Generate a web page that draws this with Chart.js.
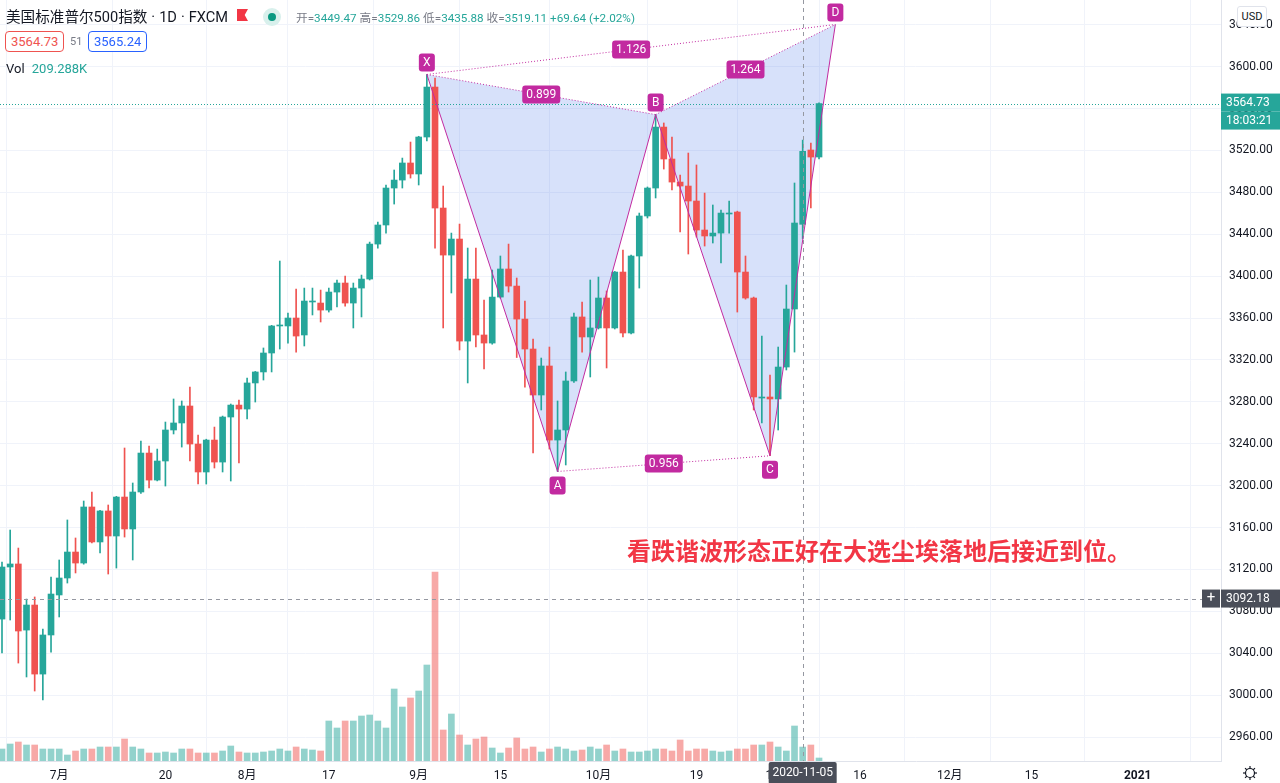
<!DOCTYPE html>
<html>
<head>
<meta charset="utf-8">
<script src="https://cdn.jsdelivr.net/npm/chart.js@4.4.0/dist/chart.umd.min.js"></script>
<style>
  html, body { margin: 0; padding: 0; background: #fff; }
  #wrap { position: relative; width: 1280px; height: 783px; overflow: hidden;
          font-family: Roboto, "Noto Sans CJK SC", sans-serif; color: #131722; }
  #chart { position: absolute; left: 0; top: 0; }
  .abs { position: absolute; white-space: nowrap; }
  .title { left: 6px; top: 5px; font-size: 14.6px; }
  .ohlc { left: 296px; top: 8px; font-size: 11.7px; color: #26a69a; }
  .ohlc b { font-weight: normal; color: #787b86; }
  .pbox { top: 31px; height: 19px; line-height: 19px; font-size: 13px; padding: 0 5px;
          border: 1px solid; border-radius: 4px; background: #fff; }
  .note { left: 627px; top: 532px; font-size: 24px; color: #f23645; font-weight: bold;
          font-family: "Noto Sans CJK SC", sans-serif; }
</style>
</head>
<body>
<div id="wrap">
  <canvas id="chart" width="1280" height="783"></canvas>
  <div class="abs title">美国标准普尔500指数<span style="margin:0 4px;">·</span>1D<span style="margin:0 4px;">·</span>FXCM</div>
  <div class="abs" style="left:237px;top:9px;width:11px;height:12px;background:#f23645;clip-path:polygon(0 0,100% 0,70% 50%,100% 100%,0 100%);"></div>
  <div class="abs" style="left:263px;top:8px;width:18px;height:18px;border-radius:50%;background:#d8f0ec;"></div>
  <div class="abs" style="left:268px;top:13px;width:8px;height:8px;border-radius:50%;background:#089981;"></div>
  <div class="abs ohlc"><b>开=</b>3449.47 <b>高=</b>3529.86 <b>低=</b>3435.88 <b>收=</b>3519.11 +69.64 (+2.02%)</div>
  <div class="abs pbox" style="left:5px;color:#ef5350;border-color:#ef5350;">3564.73</div>
  <div class="abs" style="left:70px;top:35px;font-size:11px;color:#787b86;">51</div>
  <div class="abs pbox" style="left:88px;color:#2962ff;border-color:#2962ff;">3565.24</div>
  <div class="abs" style="left:6px;top:61px;font-size:13px;">Vol <span style="color:#26a69a;margin-left:4px;">209.288K</span></div>
  <div class="abs" style="left:1237px;top:6px;width:28px;height:19px;line-height:19px;text-align:center;font-size:11px;border:1px solid #e0e3eb;border-radius:3px;background:#fff;">USD</div>
  <div class="abs note">看跌谐波形态正好在大选尘埃落地后接近到位。</div>
</div>
<script>
// ---- data: daily bars, index 0 = 2020-06-22 ----
const opens = [3072.6,3122.3,3125.2,3062.1,3086.0,3020.1,3057.4,3095.6,3111.8,3136.6,
  3126.1,3179.6,3146.2,3175.8,3151.9,3189.1,3158.6,3193.9,3231.1,3205.3,
  3223.5,3253.1,3259.8,3276.0,3239.7,3213.0,3243.5,3222.5,3265.5,3276.9,
  3273.1,3298.0,3308.5,3326.6,3352.4,3352.4,3360.0,3343.8,3375.3,3374.3,
  3367.6,3384.8,3393.4,3374.3,3388.6,3397.2,3430.6,3448.8,3484.1,3491.7,
  3508.0,3497.5,3532.8,3580.5,3465.0,3420.1,3435.4,3338.0,3397.2,3343.8,
  3336.1,3380.0,3406.8,3390.5,3359.0,3330.4,3286.5,3314.2,3243.5,3253.1,
  3299.9,3361.0,3341.9,3350.5,3379.1,3350.5,3403.9,3345.7,3419.2,3457.4,
  3484.1,3542.3,3511.8,3489.8,3486.0,3471.7,3444.0,3438.3,3441.1,3459.3,
  3461.2,3403.9,3379.1,3283.6,3284.6,3282.7,3313.2,3368.6,3449.47,3520.4,3513.7];
const highs = [3127.1,3157.6,3140.4,3091.7,3093.7,3063.1,3112.7,3129.0,3167.2,3150.0,
  3185.3,3193.9,3176.5,3181.5,3189.8,3235.9,3202.5,3242.6,3237.8,3234.9,
  3260.7,3282.7,3280.8,3294.1,3248.3,3244.3,3255.9,3266.4,3277.9,3281.7,
  3302.7,3309.0,3331.4,3353.0,3414.4,3364.8,3387.7,3388.6,3388.6,3386.7,
  3388.6,3396.3,3400.1,3393.4,3401.0,3432.5,3451.6,3487.0,3501.3,3512.7,
  3528.0,3533.5,3592.5,3589.1,3486.0,3441.1,3449.7,3426.8,3426.8,3377.2,
  3405.8,3419.2,3430.6,3398.2,3376.2,3340.0,3321.8,3332.3,3280.8,3308.5,
  3364.8,3375.3,3396.3,3399.1,3385.8,3404.5,3424.9,3420.1,3460.2,3485.1,
  3554.2,3546.2,3532.8,3496.5,3517.5,3506.1,3479.3,3467.9,3463.1,3471.7,
  3462.0,3419.2,3380.0,3342.8,3305.6,3332.3,3391.5,3488.9,3529.86,3527.1,3565.5];
const lows = [3040.2,3071.7,3030.6,3017.3,3003.9,2995.3,3041.1,3074.6,3107.0,3116.6,
  3125.0,3145.2,3135.7,3115.6,3121.3,3150.9,3129.0,3192.5,3197.7,3204.5,
  3199.6,3249.3,3236.8,3223.5,3201.5,3201.5,3216.8,3213.0,3204.4,3221.6,
  3263.6,3279.8,3300.8,3308.5,3330.4,3336.1,3327.5,3333.3,3362.9,3356.2,
  3365.7,3370.5,3371.4,3350.5,3361.0,3396.3,3426.8,3441.1,3468.8,3484.1,
  3493.6,3487.0,3529.0,3426.8,3350.5,3383.9,3329.5,3298.0,3332.3,3311.3,
  3335.0,3379.0,3384.8,3322.3,3294.1,3231.1,3272.2,3234.9,3213.5,3219.7,
  3298.5,3327.5,3303.7,3349.5,3312.3,3349.5,3341.9,3344.8,3388.6,3455.5,
  3474.6,3502.2,3482.2,3442.1,3421.1,3437.3,3428.7,3431.6,3412.5,3441.1,
  3365.7,3378.0,3272.2,3259.8,3228.5,3253.1,3310.4,3327.5,3435.88,3465.0,3512.0];
const closes = [3122.3,3125.2,3061.2,3086.0,3020.1,3057.4,3096.5,3111.8,3136.6,3126.1,
  3179.6,3146.2,3175.8,3151.9,3189.1,3158.6,3193.9,3231.1,3205.3,3223.5,
  3253.1,3259.8,3276.0,3239.7,3213.0,3243.5,3222.5,3265.5,3276.9,3273.1,
  3298.0,3308.5,3326.6,3352.4,3353.3,3360.0,3342.8,3376.2,3376.2,3367.6,
  3384.8,3393.4,3374.3,3388.6,3397.2,3430.6,3448.8,3484.1,3491.7,3508.0,
  3497.5,3532.8,3580.5,3465.0,3420.1,3435.4,3338.0,3397.2,3343.8,3336.1,
  3380.0,3406.8,3390.5,3359.0,3330.4,3286.5,3314.2,3243.5,3253.1,3299.9,
  3361.0,3341.9,3350.5,3379.1,3350.5,3403.9,3345.7,3419.2,3457.4,3484.1,
  3542.3,3511.8,3489.8,3486.0,3471.7,3444.0,3438.3,3441.1,3460.2,3460.2,
  3403.9,3379.1,3284.6,3284.6,3282.7,3313.2,3368.6,3450.7,3519.11,3513.7,3564.73];
// volume in thousands
const volumes = [180,255,285,240,240,180,180,180,90,150,
  180,180,210,210,210,330,210,180,120,120,
  135,120,180,180,120,120,120,150,225,135,
  120,120,135,150,180,150,210,180,165,150,
  600,495,600,600,675,690,600,495,1080,810,
  945,1050,1440,2835,465,705,390,240,330,360,
  195,120,195,345,180,210,135,180,210,180,
  150,165,210,180,240,150,180,135,135,150,
  180,180,150,315,150,180,180,150,135,150,
  180,180,240,240,285,210,150,525,209.288,240,45];

// time axis labels (bar index -> text)
const tickIdx  = [7, 20, 30, 40, 51, 61, 73, 85, 95, 105, 116, 126, 139];
const tickText = ['7月','20','8月','17','9月','15','10月','19','11月','16','12月','15','2021'];
const priceTicks = [2960,3000,3040,3080,3120,3160,3200,3240,3280,3320,3360,3400,3440,3480,3520,3560,3600,3640];

// XABCD pattern
const patIdx   = [52, 68, 80, 94, 102];
const patPrice = [3592.5, 3213.5, 3554.2, 3228.5, 3640.2];
const patName  = ['X', 'A', 'B', 'C', 'D'];
const ratioFrom = [0, 1, 0, 2];
const ratioTo   = [2, 3, 4, 4];
const ratioText = ['0.899', '0.956', '1.126', '1.264'];

// crosshair / last price
const crossIdx = 98, crossDate = '2020-11-05', crossPrice = 3092.18;
const lastPrice = 3564.73, countdown = '18:03:21';

const UP = '#26a69a', DOWN = '#ef5350';
const PAT = '#c22aa0';
const isUp = i => closes[i] >= opens[i];
const idx = opens.map((_, i) => i);

function roundRect(ctx, x, y, w, h, r) {
  ctx.beginPath();
  ctx.moveTo(x + r, y);
  ctx.arcTo(x + w, y, x + w, y + h, r);
  ctx.arcTo(x + w, y + h, x, y + h, r);
  ctx.arcTo(x, y + h, x, y, r);
  ctx.arcTo(x, y, x + w, y, r);
  ctx.closePath();
}

function tag(ctx, text, cx, cy, w, h, bg, fg) {
  roundRect(ctx, cx - w / 2, cy - h / 2, w, h, 3);
  ctx.fillStyle = bg;
  ctx.fill();
  ctx.fillStyle = fg;
  ctx.textAlign = 'center';
  ctx.textBaseline = 'middle';
  ctx.fillText(text, cx, cy + 0.5);
}

// scales add room for edge labels; the reference plot runs edge to edge
function noPad(s) {
  s.paddingTop = 0; s.paddingBottom = 0; s.paddingLeft = 0; s.paddingRight = 0;
}

const overlay = {
  id: 'overlay',
  beforeDatasetsDraw(chart) {
    const { ctx, scales: { x, y }, chartArea: a } = chart;
    const P = patIdx.map((k, i) => [x.getPixelForValue(k), y.getPixelForValue(patPrice[i])]);
    ctx.save();
    ctx.beginPath();
    ctx.rect(a.left, a.top, a.right - a.left, a.bottom - a.top);
    ctx.clip();
    ctx.fillStyle = 'rgba(41,98,230,0.19)';
    [[0, 1, 2], [2, 3, 4]].forEach(t => {
      ctx.beginPath();
      t.forEach((j, n) => n ? ctx.lineTo(P[j][0], P[j][1]) : ctx.moveTo(P[j][0], P[j][1]));
      ctx.closePath();
      ctx.fill();
    });
    ctx.restore();
  },
  afterDatasetsDraw(chart) {
    const { ctx, scales: { x, y }, chartArea: a } = chart;
    const P = patIdx.map((k, i) => [x.getPixelForValue(k), y.getPixelForValue(patPrice[i])]);
    ctx.save();
    ctx.beginPath();
    ctx.rect(a.left, a.top, a.right - a.left, a.bottom - a.top);
    ctx.clip();

    // last price line
    const ly = Math.round(y.getPixelForValue(lastPrice)) + 0.5;
    ctx.strokeStyle = UP;
    ctx.lineWidth = 1;
    ctx.setLineDash([1, 2]);
    ctx.beginPath(); ctx.moveTo(a.left, ly); ctx.lineTo(a.right, ly); ctx.stroke();

    // pattern: dotted ratio lines
    ctx.strokeStyle = PAT;
    ctx.setLineDash([1, 2]);
    ratioFrom.forEach((f, i) => {
      ctx.beginPath();
      ctx.moveTo(P[f][0], P[f][1]);
      ctx.lineTo(P[ratioTo[i]][0], P[ratioTo[i]][1]);
      ctx.stroke();
    });
    // pattern: solid legs
    ctx.setLineDash([]);
    ctx.beginPath();
    P.forEach((p, i) => i ? ctx.lineTo(p[0], p[1]) : ctx.moveTo(p[0], p[1]));
    ctx.stroke();

    // crosshair
    ctx.strokeStyle = '#9598a1';
    ctx.setLineDash([4, 4]);
    const cx = Math.round(x.getPixelForValue(crossIdx)) + 0.5;
    const cy = Math.round(y.getPixelForValue(crossPrice)) + 0.5;
    ctx.beginPath(); ctx.moveTo(cx, a.top); ctx.lineTo(cx, a.bottom); ctx.stroke();
    ctx.beginPath(); ctx.moveTo(a.left, cy); ctx.lineTo(a.right, cy); ctx.stroke();
    ctx.setLineDash([]);

    // ratio tags
    ctx.font = '12px Roboto, sans-serif';
    ratioFrom.forEach((f, i) => {
      const t = ratioTo[i];
      tag(ctx, ratioText[i], (P[f][0] + P[t][0]) / 2, (P[f][1] + P[t][1]) / 2, 38, 18, PAT, '#fff');
    });
    // point tags: X, B, D above; A, C below
    patName.forEach((n, i) => {
      const up = i % 2 === 0;
      tag(ctx, n, P[i][0], P[i][1] + (up ? -12 : 14), 16, 18, PAT, '#fff');
    });
    ctx.restore();
  },
  afterDraw(chart) {
    const { ctx, scales: { x, y }, chartArea: a } = chart;
    ctx.save();
    ctx.font = '12px Roboto, sans-serif';
    // last price + countdown
    const ly = y.getPixelForValue(lastPrice);
    ctx.fillStyle = UP;
    ctx.fillRect(a.right, ly - 10, 59, 18);
    ctx.fillRect(a.right, ly + 8, 59, 18);
    ctx.fillStyle = '#fff';
    ctx.textAlign = 'left';
    ctx.textBaseline = 'middle';
    ctx.fillText(lastPrice.toFixed(2), a.right + 5, ly - 1);
    ctx.fillText(countdown, a.right + 5, ly + 17);
    // crosshair price
    const cy = y.getPixelForValue(crossPrice);
    ctx.fillStyle = '#4a4e59';
    ctx.fillRect(a.right, cy - 9, 59, 18);
    ctx.fillRect(a.right - 19, cy - 9, 18, 18);
    ctx.fillStyle = '#fff';
    ctx.fillText(crossPrice.toFixed(2), a.right + 5, cy);
    ctx.textAlign = 'center';
    ctx.font = '15px Roboto, sans-serif';
    ctx.fillText('+', a.right - 10, cy);
    // crosshair date
    const cx = x.getPixelForValue(crossIdx);
    ctx.font = '12px Roboto, sans-serif';
    ctx.fillStyle = '#4a4e59';
    roundRect(ctx, cx - 34, a.bottom + 1, 68, 22, 2);
    ctx.fill();
    ctx.fillStyle = '#fff';
    ctx.fillText(crossDate, cx, a.bottom + 12);
    // settings gear
    ctx.strokeStyle = '#131722';
    ctx.lineWidth = 1.2;
    const gx = 1250, gy = 773;
    ctx.beginPath(); ctx.arc(gx, gy, 4.5, 0, Math.PI * 2); ctx.stroke();
    for (let i = 0; i < 8; i++) {
      const t = i * Math.PI / 4;
      ctx.beginPath();
      ctx.moveTo(gx + Math.cos(t) * 4.5, gy + Math.sin(t) * 4.5);
      ctx.lineTo(gx + Math.cos(t) * 7, gy + Math.sin(t) * 7);
      ctx.stroke();
    }
    ctx.restore();
  }
};

const candleColors = idx.map(i => isUp(i) ? UP : DOWN);
const volColors = idx.map(i => isUp(i) ? 'rgba(38,166,154,0.5)' : 'rgba(239,83,80,0.5)');

new Chart(document.getElementById('chart'), {
  type: 'bar',
  data: {
    datasets: [
      {
        label: 'Vol', yAxisID: 'yVol', grouped: false, barThickness: 6, order: 3,
        data: idx.map(i => ({ x: i, y: volumes[i] })),
        backgroundColor: volColors
      },
      {
        label: 'wick', yAxisID: 'y', grouped: false, barThickness: 1, order: 2,
        data: idx.map(i => ({ x: i, y: [lows[i], highs[i]] })),
        backgroundColor: candleColors
      },
      {
        label: 'body', yAxisID: 'y', grouped: false, barThickness: 6, minBarLength: 1, order: 1,
        data: idx.map(i => ({ x: i, y: [opens[i], closes[i]] })),
        backgroundColor: candleColors
      }
    ]
  },
  options: {
    responsive: false,
    animation: false,
    layout: { padding: 0, autoPadding: false },
    plugins: { legend: { display: false }, tooltip: { enabled: false } },
    scales: {
      x: {
        type: 'linear', min: -0.245, max: 149.2, offset: false,
        afterBuildTicks: s => { s.ticks = tickIdx.map(v => ({ value: v })); },
        afterFit: s => { s.height = 22; noPad(s); },
        grid: { color: '#f0f3fa', drawTicks: false },
        border: { color: '#e0e3eb' },
        ticks: {
          autoSkip: false, maxRotation: 0, padding: 8, color: '#131722',
          font: c => ({ size: 12, family: 'Roboto, "Noto Sans CJK SC", sans-serif',
                        weight: c.index === tickText.length - 1 ? 'bold' : 'normal' }),
          callback: (v, i) => tickText[i]
        }
      },
      y: {
        position: 'right', min: 2937.1, max: 3663.6,
        afterBuildTicks: s => { s.ticks = priceTicks.map(v => ({ value: v })); },
        afterFit: s => { s.width = 59; noPad(s); },
        grid: { color: '#f0f3fa', drawTicks: false },
        border: { color: '#e0e3eb' },
        ticks: {
          padding: 8, color: '#131722',
          font: { size: 12, family: 'Roboto, sans-serif' },
          callback: v => v.toFixed(2)
        }
      },
      yVol: { display: false, min: 0, max: 11415 }
    }
  },
  plugins: [overlay]
});
</script>
</body>
</html>
